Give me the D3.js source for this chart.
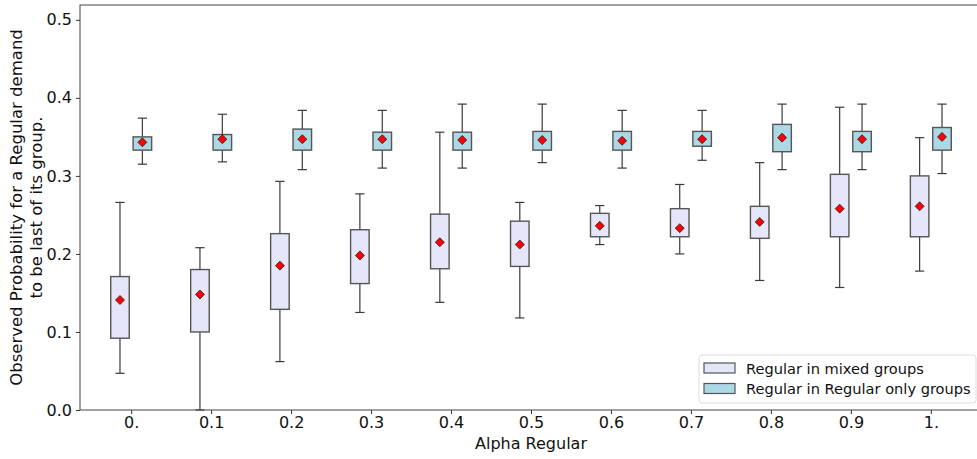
<!DOCTYPE html>
<html>
<head>
<meta charset="UTF-8">
<style>
  body { margin: 0; background: white; }
  svg text { font-family: "DejaVu Sans", sans-serif; fill: #111; }
</style>
</head>
<body>
<svg id="chart" width="977" height="459"></svg>
<script src="https://d3js.org/d3.v7.min.js"></script>
<script>
// categories and tick labels
const alphas = [0, 0.1, 0.2, 0.3, 0.4, 0.5, 0.6, 0.7, 0.8, 0.9, 1.0];
const tickLabels = ["0.", "0.1", "0.2", "0.3", "0.4", "0.5", "0.6", "0.7", "0.8", "0.9", "1."];

// Regular in mixed groups: [whiskerLow, q1, q3, whiskerHigh], mean
const mixedStats = [
  [0.047, 0.092, 0.171, 0.266],
  [0.000, 0.100, 0.180, 0.208],
  [0.062, 0.129, 0.226, 0.293],
  [0.125, 0.162, 0.231, 0.277],
  [0.138, 0.181, 0.251, 0.356],
  [0.118, 0.184, 0.242, 0.266],
  [0.212, 0.222, 0.252, 0.262],
  [0.200, 0.222, 0.258, 0.289],
  [0.166, 0.220, 0.261, 0.317],
  [0.157, 0.222, 0.302, 0.388],
  [0.178, 0.222, 0.300, 0.349]
];
const mixedMeans = [0.141, 0.148, 0.185, 0.198, 0.215, 0.212, 0.236, 0.233, 0.241, 0.258, 0.261];

// Regular in Regular only groups
const onlyStats = [
  [0.315, 0.333, 0.350, 0.374],
  [0.318, 0.333, 0.353, 0.379],
  [0.308, 0.333, 0.360, 0.384],
  [0.310, 0.333, 0.356, 0.384],
  [0.310, 0.333, 0.356, 0.392],
  [0.317, 0.333, 0.357, 0.392],
  [0.310, 0.333, 0.357, 0.384],
  [0.320, 0.338, 0.357, 0.384],
  [0.308, 0.331, 0.366, 0.392],
  [0.308, 0.331, 0.357, 0.392],
  [0.303, 0.333, 0.362, 0.392]
];
const onlyMeans = [0.343, 0.347, 0.347, 0.347, 0.346, 0.346, 0.345, 0.347, 0.349, 0.347, 0.350];

const yTicks = [0, 0.1, 0.2, 0.3, 0.4, 0.5];

const series = [
  {name: "Regular in mixed groups", stats: mixedStats, means: mixedMeans, fill: "#e6e6fa", offset: -0.14},
  {name: "Regular in Regular only groups", stats: onlyStats, means: onlyMeans, fill: "#add8e6", offset: 0.14}
];

const svg = d3.select("#chart");
const margin = {left: 80, top: 5, right: -5, bottom: 49};
const W = 977, H = 459;

const x = d3.scaleLinear().domain([-0.64, 10.64]).range([margin.left, W - margin.right]);
const y = d3.scaleLinear().domain([0, 0.519]).range([H - margin.bottom, margin.top]);
const boxW = x(0.232) - x(0);

const plot = svg.append("g");

series.forEach(s => {
  const g = plot.append("g");
  s.stats.forEach((st, i) => {
    const cx = x(i + s.offset);
    const [lo, q1, q3, hi] = st;
    const c = g.append("g");
    c.append("line").attr("x1", cx).attr("x2", cx).attr("y1", y(q3)).attr("y2", y(hi))
      .attr("stroke", "#3a3a3a").attr("stroke-width", 1.2);
    c.append("line").attr("x1", cx).attr("x2", cx).attr("y1", y(q1)).attr("y2", y(lo))
      .attr("stroke", "#3a3a3a").attr("stroke-width", 1.2);
    [lo, hi].forEach(v => {
      c.append("line").attr("x1", cx - boxW / 4).attr("x2", cx + boxW / 4)
        .attr("y1", y(v)).attr("y2", y(v))
        .attr("stroke", "#3a3a3a").attr("stroke-width", 1.2);
    });
    c.append("rect").attr("x", cx - boxW / 2).attr("width", boxW)
      .attr("y", y(q3)).attr("height", y(q1) - y(q3))
      .attr("fill", s.fill).attr("stroke", "#555").attr("stroke-width", 1.4);
    const m = y(s.means[i]);
    c.append("path").attr("d", `M${cx},${m - 4.5}L${cx + 4.5},${m}L${cx},${m + 4.5}L${cx - 4.5},${m}Z`)
      .attr("fill", "#ff0000").attr("stroke", "#222").attr("stroke-width", 0.8);
  });
});

// axes
const xAxis = d3.axisBottom(x).tickValues(d3.range(alphas.length))
  .tickFormat((d, i) => tickLabels[i]).tickSize(4).tickPadding(3);
const yAxis = d3.axisLeft(y).tickValues(yTicks).tickFormat(d3.format(".1f")).tickSize(4).tickPadding(4);

const gx = svg.append("g").attr("transform", `translate(0,${H - margin.bottom})`).call(xAxis);
const gy = svg.append("g").attr("transform", `translate(${margin.left},0)`).call(yAxis);
[gx, gy].forEach(g => {
  g.select(".domain").remove();
  g.selectAll("line").attr("stroke", "#333");
  g.selectAll("text").style("font-size", "16px").attr("fill", "#111");
});

// frame
svg.append("rect").attr("x", margin.left).attr("y", margin.top)
  .attr("width", x.range()[1] - margin.left).attr("height", y(0) - margin.top)
  .attr("fill", "none").attr("stroke", "#444").attr("stroke-width", 1);

// labels
svg.append("text").attr("x", (margin.left + x.range()[1]) / 2).attr("y", 448.5)
  .attr("text-anchor", "middle").style("font-size", "16px").text("Alpha Regular");

const yl = svg.append("text").attr("transform", `translate(22,${(margin.top + y(0)) / 2}) rotate(-90)`)
  .attr("text-anchor", "middle").style("font-size", "16.5px");
yl.append("tspan").attr("x", 0).attr("dy", 0).text("Observed Probability for a Regular demand");
yl.append("tspan").attr("x", 0).attr("dy", 19.5).text("to be last of its group.");

// legend
const lg = svg.append("g").attr("transform", "translate(699,355)");
lg.append("rect").attr("width", 277).attr("height", 48).attr("rx", 3)
  .attr("fill", "white").attr("fill-opacity", 0.85).attr("stroke", "#ddd");
series.forEach((s, i) => {
  const row = lg.append("g").attr("transform", `translate(5,${8 + i * 20.5})`);
  row.append("rect").attr("width", 31).attr("height", 10).attr("fill", s.fill)
    .attr("stroke", "#555").attr("stroke-width", 1.2);
  row.append("text").attr("x", 42).attr("y", 10.5).style("font-size", "14.6px").text(s.name);
});
</script>
</body>
</html>
